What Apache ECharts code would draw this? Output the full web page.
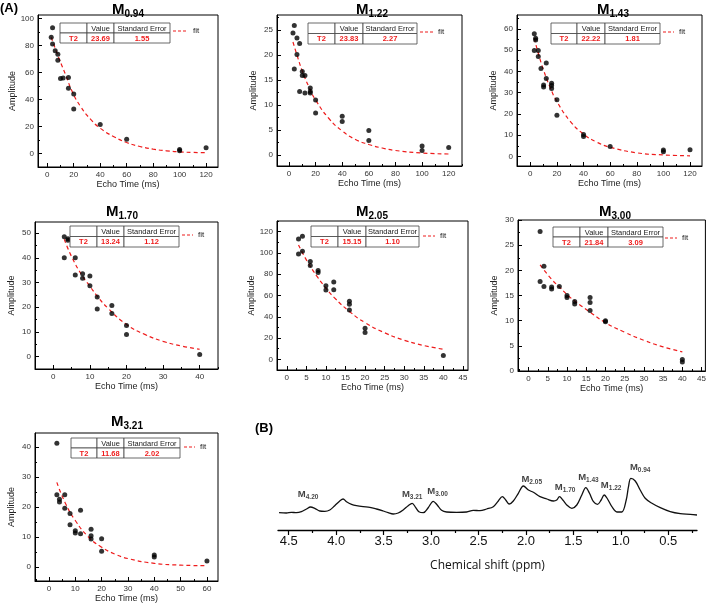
<!DOCTYPE html>
<html><head><meta charset="utf-8">
<script src="https://cdn.jsdelivr.net/npm/echarts@6/dist/echarts.min.js"></script>
<style>html,body{margin:0;padding:0;background:#fff}#c{width:709px;height:604px}</style>
</head><body><div id="c"></div>
<script>
// ---------- DATA ----------
const panelNames = ['0.94','1.22','1.43','1.70','2.05','3.00','3.21'];
const t2Values = ['23.69','23.83','22.22','13.24','15.15','21.84','11.68'];
const t2Errors = ['1.55','2.27','1.81','1.12','1.10','3.09','2.02'];
const tableHeader = ['', 'Value', 'Standard Error'];
const tableRowLabel = 'T2';

const pts094 = [[3,86],[4,93],[4,81],[6,76],[8,73.5],[8,69],[10,55.5],[12,55.8],[16,56.2],[16,48.3],[20,44],[20,33],[40,21.4],[60,10.6],[100,3],[100,2],[120,4.2]];
const fit094 = [[3,86],[9,70],[14,58],[19,45.5],[25,35],[33,25],[40,18.7],[50,12.6],[60,8.1],[70,5.2],[80,3.2],[90,2],[100,1.2],[110,0.8],[120,0.6]];
const pts122 = [[3,24.4],[4,25.9],[4,17.2],[6,23.4],[6,20.1],[8,22.3],[8,12.7],[10,16.7],[10,15.9],[12,15.9],[12,12.4],[16,13.4],[16,12.7],[16,12.4],[20,11],[20,8.4],[40,7.75],[40,6.7],[60,4.9],[60,2.9],[100,1.8],[100,0.9],[120,1.5]];
const fit122 = [[3,22.6],[6,20],[10,16.8],[15,13.6],[20,11],[30,7.3],[40,4.8],[50,3.1],[60,2.1],[70,1.4],[80,0.9],[100,0.4],[120,0.2]];
const pts143 = [[3,57.7],[3,49.8],[4,55.6],[4,54.8],[6,49.8],[6,47],[8,41.4],[10,33.6],[10,32.7],[12,43.9],[12,36.6],[16,34.4],[16,33.3],[16,31.9],[20,26.7],[20,19.4],[40,10.3],[40,9.4],[60,4.7],[100,3],[100,2.2],[120,3.1]];
const fit143 = [[3,55.5],[6,48.5],[10,40.5],[15,32.3],[20,25.8],[30,16.5],[40,10.5],[50,6.7],[60,4.3],[80,1.7],[100,0.7],[120,0.3]];
const pts170 = [[3,48.5],[3,40],[4,47.7],[4,47.1],[6,40],[6,33],[8,33.6],[8,31.7],[10,32.6],[10,28.7],[12,24.1],[12,19.3],[16,20.7],[16,17.5],[20,12.6],[20,9],[40,0.9]];
const fit170 = [[3,47.5],[5,40.5],[8,32.5],[10,28.5],[12,24.5],[15,19.5],[20,13],[25,9],[30,6.2],[35,4.3],[40,3]];
const pts205 = [[3,113],[3,99],[4,115.6],[4,101.6],[6,92],[6,88.2],[8,83.5],[8,81.7],[10,69.2],[10,65.1],[12,72.6],[12,65.5],[16,54.6],[16,51.7],[16,46.4],[20,29.3],[20,25.2],[40,3.7]];
const fit205 = [[3,107.5],[5,93.5],[8,76.5],[10,67],[12,58.5],[16,45],[20,34.5],[25,25],[30,18],[35,13],[40,9.5]];
const pts300 = [[3,27.7],[3,17.8],[4,20.8],[4,16.8],[6,16.7],[6,16.3],[8,16.8],[10,15],[10,14.6],[12,13.8],[12,13.3],[16,14.6],[16,13.6],[16,12],[20,10],[20,9.8],[40,2.3],[40,1.8]];
const fit300 = [[3,21.1],[6,18.2],[8,16.7],[10,15.2],[12,13.9],[16,11.7],[20,9.6],[25,7.7],[30,6.1],[35,4.8],[40,3.8]];
const pts321 = [[3,41.3],[3,24.1],[4,22.6],[4,21.7],[6,24.1],[6,19.6],[8,17.8],[8,14.1],[10,12.1],[10,11.3],[12,18.9],[12,11.1],[16,12.6],[16,10.4],[16,9.3],[20,9.4],[20,5.2],[40,4],[40,3.3],[60,2]];
const fit321 = [[3,28.2],[6,21.7],[10,15.5],[15,10],[20,6.6],[25,4.3],[30,2.8],[40,1.2],[50,0.6],[60,0.4]];

const xTicks120 = [0,20,40,60,80,100,120];
const xTicks40 = [0,10,20,30,40];
const xTicks45 = [0,5,10,15,20,25,30,35,40,45];
const xTicks60 = [0,10,20,30,40,50,60];
const yTicks094 = [0,20,40,60,80,100];
const yTicks122 = [0,5,10,15,20,25];
const yTicks143 = [0,10,20,30,40,50,60];
const yTicks170 = [0,10,20,30,40,50];
const yTicks205 = [0,20,40,60,80,100,120];
const yTicks300 = [0,5,10,15,20,25,30];
const yTicks321 = [0,10,20,30,40];

const specPpm = [4.602,4.525,4.472,4.419,4.366,4.313,4.271,4.226,4.173,4.120,4.067,4.015,3.962,3.927,3.891,3.838,3.786,3.716,3.645,3.574,3.505,3.452,3.399,3.346,3.294,3.241,3.199,3.163,3.128,3.082,3.030,2.977,2.935,2.889,2.836,2.730,2.625,2.555,2.484,2.414,2.344,2.291,2.249,2.213,2.175,2.133,2.080,2.027,1.974,1.922,1.851,1.780,1.710,1.675,1.647,1.611,1.569,1.516,1.464,1.411,1.369,1.330,1.288,1.246,1.207,1.175,1.140,1.094,1.041,0.989,0.943,0.919,0.894,0.848,0.796,0.743,0.672,0.584,0.479,0.373,0.268,0.197];
const specAmp = [17.3,17.0,17.7,17.3,18.3,21,23,21.7,19,18.7,20,24.3,29,31,28.3,25.7,24.3,23.3,22.7,21,19,17.3,16,17,20,24.3,26.7,22.7,18.3,17.3,22.3,28.7,25,19.7,18,17.7,18,19.7,19.3,21,23.3,29,33.3,30,26,29,36.7,44,40,37.7,33.3,31,29,30,33.3,30,25,21.7,25,35,42.3,36.7,28.3,25.7,30,35,31,23.3,18,18,30,43.3,51.7,49,40,31.7,26.7,22.3,18.3,16.3,15.7,15];
const specTicks = [0.5,1.0,1.5,2.0,2.5,3.0,3.5,4.0,4.5];
const specMinorTicks = [0.25,0.75,1.25,1.75,2.25,2.75,3.25,3.75,4.25];
const peakNames = ['4.20','3.21','3.00','2.05','1.70','1.43','1.22','0.94'];
const peakPpm = [4.296,3.199,2.931,1.939,1.587,1.341,1.102,0.796];
const peakAmp = [36,36,38.3,50.7,42.7,52.3,45,63];

// ---------- LAYOUT ----------
const FF = 'Liberation Sans, Arial, sans-serif';
const panelData = [
  {pts:pts094, fit:fit094, xt:xTicks120, yt:yTicks094},
  {pts:pts122, fit:fit122, xt:xTicks120, yt:yTicks122},
  {pts:pts143, fit:fit143, xt:xTicks120, yt:yTicks143},
  {pts:pts170, fit:fit170, xt:xTicks40,  yt:yTicks170},
  {pts:pts205, fit:fit205, xt:xTicks45,  yt:yTicks205},
  {pts:pts300, fit:fit300, xt:xTicks45,  yt:yTicks300},
  {pts:pts321, fit:fit321, xt:xTicks60,  yt:yTicks321}
];
const layout = [
  {g:[38,15,180,152],  x:[-7,129],     y:[-10,102.5], t:[128,10],  tb:[60,23,[27,27,56],10],   lg:[173,188,31]},
  {g:[277,15,185,151], x:[-9,130],     y:[-2.2,28],   t:[372,10],  tb:[308,23,[27,28,54],10.5], lg:[420,433,32]},
  {g:[517,15,185,151], x:[-10,129],    y:[-4.5,66.5], t:[613,10],  tb:[551,23,[26,28,55],10.5], lg:[663,674,32]},
  {g:[35,222,183,147], x:[-5,45],      y:[-5,54.5],   t:[122,212], tb:[70,226,[27,27,55],10.5], lg:[182,193,235]},
  {g:[277,221,191,149],x:[-2.5,46.3],  y:[-10,130],   t:[372,212], tb:[311,226,[27,28,53],10.5],lg:[423,435,236]},
  {g:[518,220,189,151],x:[-2.75,46],   y:[0,30],      t:[615,212], tb:[553,227,[27,28,55],10],  lg:[665,677,238]},
  {g:[35,433,183,148], x:[-5.3,64.2],  y:[-4.7,44.7], t:[127,422], tb:[71,438,[26,27,56],10],   lg:[184,195,447]}
];

function minorOf(ticks, min, max) {
  const step = ticks[1] - ticks[0];
  const out = [];
  for (let v = ticks[0] - step / 2; v >= min; v -= step) out.push(v);
  for (let i = 0; i < ticks.length - 1; i++) out.push((ticks[i] + ticks[i+1]) / 2);
  for (let v = ticks[ticks.length-1] + step / 2; v <= max; v += step) out.push(v);
  return out;
}

const grid = [], xAxis = [], yAxis = [], series = [], graphic = [];
const RED = '#ee1c1c';

layout.forEach((L, i) => {
  const D = panelData[i];
  grid.push({left:L.g[0], top:L.g[1], width:L.g[2], height:L.g[3], show:true, borderColor:'#000', borderWidth:1, containLabel:false});
  const axLine = {show:true, onZero:false, lineStyle:{color:'#000', width:1}};
  xAxis.push({type:'value', gridIndex:i, position:'bottom', min:L.x[0], max:L.x[1], axisLine:axLine,
    axisTick:{show:true, inside:true, length:4, customValues:D.xt, lineStyle:{color:'#000'}},
    axisLabel:{customValues:D.xt, fontSize:8, color:'#333', margin:4, fontFamily:FF},
    splitLine:{show:false}, name:'Echo Time (ms)', nameLocation:'middle', nameGap:12,
    nameTextStyle:{fontSize:9, color:'#222', fontFamily:FF}});
  xAxis.push({type:'value', gridIndex:i, position:'bottom', min:L.x[0], max:L.x[1], axisLine:{show:false, onZero:false},
    axisTick:{show:true, inside:true, length:2, customValues:minorOf(D.xt, L.x[0], L.x[1]), lineStyle:{color:'#000'}},
    axisLabel:{show:false}, splitLine:{show:false}});
  yAxis.push({type:'value', gridIndex:i, position:'left', min:L.y[0], max:L.y[1], axisLine:axLine,
    axisTick:{show:true, inside:true, length:4, customValues:D.yt, lineStyle:{color:'#000'}},
    axisLabel:{customValues:D.yt, fontSize:8, color:'#333', margin:4, fontFamily:FF},
    splitLine:{show:false}, name:'Amplitude', nameLocation:'middle', nameGap:19,
    nameTextStyle:{fontSize:9, color:'#222', fontFamily:FF}});
  yAxis.push({type:'value', gridIndex:i, position:'left', min:L.y[0], max:L.y[1], axisLine:{show:false, onZero:false},
    axisTick:{show:true, inside:true, length:2, customValues:minorOf(D.yt, L.y[0], L.y[1]), lineStyle:{color:'#000'}},
    axisLabel:{show:false}, splitLine:{show:false}});
  series.push({type:'line', xAxisIndex:2*i, yAxisIndex:2*i, data:D.fit, smooth:true, showSymbol:false, symbol:'none',
    lineStyle:{color:RED, width:1.2, type:[4,3]}, z:2, silent:true, animation:false});
  series.push({type:'scatter', xAxisIndex:2*i, yAxisIndex:2*i, data:D.pts, symbolSize:5,
    itemStyle:{color:'#000'}, z:3, silent:true, animation:false});

  // title
  graphic.push({type:'text', x:L.t[0], y:L.t[1], style:{text:'{m|M}{s|' + panelNames[i] + '}',
    align:'center', verticalAlign:'middle', fill:'#000',
    rich:{m:{fontSize:15, fontWeight:'bold', fontFamily:FF}, s:{fontSize:10, fontWeight:'bold', fontFamily:FF, padding:[9,0,0,0]}}}});
  // table
  const [tx, ty, cw, rh] = L.tb;
  const rows = [tableHeader, [tableRowLabel, t2Values[i], t2Errors[i]]];
  rows.forEach((row, r) => {
    let cx = tx;
    row.forEach((cell, c) => {
      graphic.push({type:'rect', shape:{x:cx, y:ty + r*rh, width:cw[c], height:rh},
        style:{fill:'#fff', stroke:'#444', lineWidth:0.8}, z:10});
      graphic.push({type:'text', x:cx + cw[c]/2, y:ty + r*rh + rh/2 + 0.5, z:11,
        style:{text:cell, align:'center', verticalAlign:'middle', fontSize:7.5, fontFamily:FF,
          fontWeight: r === 1 ? 'bold' : 'normal', fill: r === 1 ? RED : '#222'}});
      cx += cw[c];
    });
  });
  // legend
  graphic.push({type:'line', shape:{x1:L.lg[0], y1:L.lg[2], x2:L.lg[1], y2:L.lg[2]},
    style:{stroke:RED, lineWidth:1.2, lineDash:[3,2]}, z:10});
  graphic.push({type:'text', x:L.lg[1] + 5, y:L.lg[2], style:{text:'fit', fontSize:8, fontFamily:FF, fill:'#222', verticalAlign:'middle'}, z:10});
});

// panel B
grid.push({left:278, top:430, width:419, height:100, show:false});
xAxis.push({type:'value', gridIndex:7, position:'bottom', min:0.197, max:4.613, inverse:true,
  axisLine:{show:true, onZero:false, lineStyle:{color:'#000', width:1.3}},
  axisTick:{show:true, length:5, customValues:specTicks, lineStyle:{color:'#000', width:1.2}},
  axisLabel:{customValues:specTicks, fontSize:13, color:'#111', margin:5, fontFamily:FF, formatter:v => v.toFixed(1)},
  splitLine:{show:false}, name:'Chemical shift (ppm)', nameLocation:'middle', nameGap:30,
  nameTextStyle:{fontSize:12, color:'#111', fontFamily:'Open Sans, sans-serif'}});
xAxis.push({type:'value', gridIndex:7, position:'bottom', min:0.197, max:4.613, inverse:true, axisLine:{show:false, onZero:false},
  axisTick:{show:true, length:3, customValues:specMinorTicks, lineStyle:{color:'#000', width:1.2}},
  axisLabel:{show:false}, splitLine:{show:false}});
yAxis.push({type:'value', gridIndex:7, min:0, max:100, show:false});
series.push({type:'line', xAxisIndex:14, yAxisIndex:14, data:specPpm.map((p, k) => [p, specAmp[k]]),
  smooth:0.35, showSymbol:false, symbol:'none', lineStyle:{color:'#111', width:1.3}, silent:true, animation:false});
series.push({type:'scatter', xAxisIndex:14, yAxisIndex:14, symbolSize:0, silent:true, animation:false,
  data:peakNames.map((n, k) => ({name:n, value:[peakPpm[k], peakAmp[k]]})),
  label:{show:true, position:'inside', color:'#111', formatter:p => '{m|M}{s|' + p.name + '}',
    rich:{m:{fontSize:9.5, fontWeight:'bold', fontFamily:FF}, s:{fontSize:6.5, fontWeight:'bold', fontFamily:FF, padding:[6,0,0,0]}}}});

graphic.push({type:'text', x:0, y:2, style:{text:'(A)', fontSize:13, fontWeight:'bold', fontFamily:FF, fill:'#000'}});
graphic.push({type:'text', x:255, y:422, style:{text:'(B)', fontSize:13, fontWeight:'bold', fontFamily:FF, fill:'#000'}});

const chart = echarts.init(document.getElementById('c'));
chart.setOption({animation:false, backgroundColor:'#fff', grid, xAxis, yAxis, series, graphic});
</script></body></html>
